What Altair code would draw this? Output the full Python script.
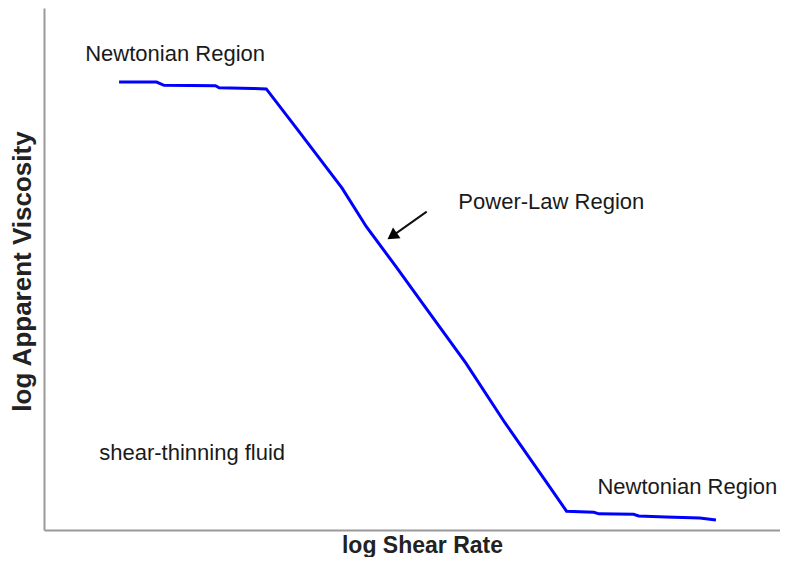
import altair as alt
import pandas as pd

# Viscosity curve (log shear rate vs log apparent viscosity), arbitrary log units
shear = [1.02, 1.53, 1.63, 2.33, 2.38, 2.84, 3.02, 3.44, 4.05, 4.38, 4.78, 5.19,
         5.73, 6.26, 6.80, 7.10, 7.47, 7.54, 8.01, 8.08, 8.45, 8.91, 9.13]
visc = [8.58, 8.58, 8.52, 8.51, 8.47, 8.46, 8.45, 7.68, 6.55, 5.81, 5.05, 4.25,
        3.20, 2.06, 0.97, 0.36, 0.34, 0.31, 0.30, 0.27, 0.25, 0.23, 0.19]

# Annotations
label_text = ["Newtonian Region", "Power-Law Region", "shear-thinning fluid", "Newtonian Region"]
label_x = [0.56, 5.63, 0.75, 7.52]
label_y = [8.99, 6.15, 1.35, 0.69]

arrow_tail = (5.20, 6.10)
arrow_head = (4.73, 5.63)

FONT = "Liberation Sans"
XT = "log Shear Rate"
YT = "log Apparent Viscosity"

xs = alt.Scale(domain=[0, 10], nice=False, zero=False)
ys = alt.Scale(domain=[0, 10], nice=False, zero=False)

x_axis = alt.Axis(title=XT, ticks=False, labels=False, grid=False,
                  domainColor="#999999", domainWidth=2,
                  titleFont=FONT, titleFontSize=23, titleFontWeight="bold",
                  titleColor="#222222", titleX=378, titleY=22,
                  titleAlign="center", titleBaseline="alphabetic")
y_axis = alt.Axis(title=YT, ticks=False, labels=False, grid=False,
                  domainColor="#999999", domainWidth=2,
                  titleFont=FONT, titleFontSize=26, titleFontWeight="bold",
                  titleColor="#222222", titleX=-14, titleY=263, titleAngle=270,
                  titleAlign="center", titleBaseline="alphabetic")

curve_df = pd.DataFrame({"x": shear, "y": visc})
labels_df = pd.DataFrame({"x": label_x, "y": label_y, "t": label_text})
arrow_df = pd.DataFrame({"x": [arrow_tail[0]], "y": [arrow_tail[1]],
                         "x2": [arrow_head[0]], "y2": [arrow_head[1]]})
head_df = pd.DataFrame({"x": [arrow_head[0]], "y": [arrow_head[1]]})

curve = alt.Chart(curve_df).mark_line(color="#0000ff", strokeWidth=3).encode(
    x=alt.X("x:Q", scale=xs, axis=x_axis),
    y=alt.Y("y:Q", scale=ys, axis=y_axis),
)

labels = alt.Chart(labels_df).mark_text(
    font=FONT, fontSize=22, color="#1a1a1a", align="left", baseline="alphabetic"
).encode(
    x=alt.X("x:Q", scale=xs, axis=x_axis),
    y=alt.Y("y:Q", scale=ys, axis=y_axis),
    text="t:N",
)

shaft = alt.Chart(arrow_df).mark_rule(color="#111111", strokeWidth=2).encode(
    x=alt.X("x:Q", scale=xs, axis=x_axis),
    y=alt.Y("y:Q", scale=ys, axis=y_axis),
    x2="x2:Q",
    y2="y2:Q",
)

head = alt.Chart(head_df).mark_point(
    shape="triangle-up", filled=True, color="#000000", size=170, angle=235, opacity=1
).encode(
    x=alt.X("x:Q", scale=xs, axis=x_axis),
    y=alt.Y("y:Q", scale=ys, axis=y_axis),
)

chart = alt.layer(curve, labels, shaft, head).properties(
    width=736,
    height=522,
    background="white",
    autosize=alt.AutoSizeParams(type="none"),
    padding={"left": 36, "top": 0, "right": 0, "bottom": 27},
).configure_view(strokeWidth=0, stroke="transparent")

chart.save("out.html", embed_options={"renderer": "svg", "actions": False})
